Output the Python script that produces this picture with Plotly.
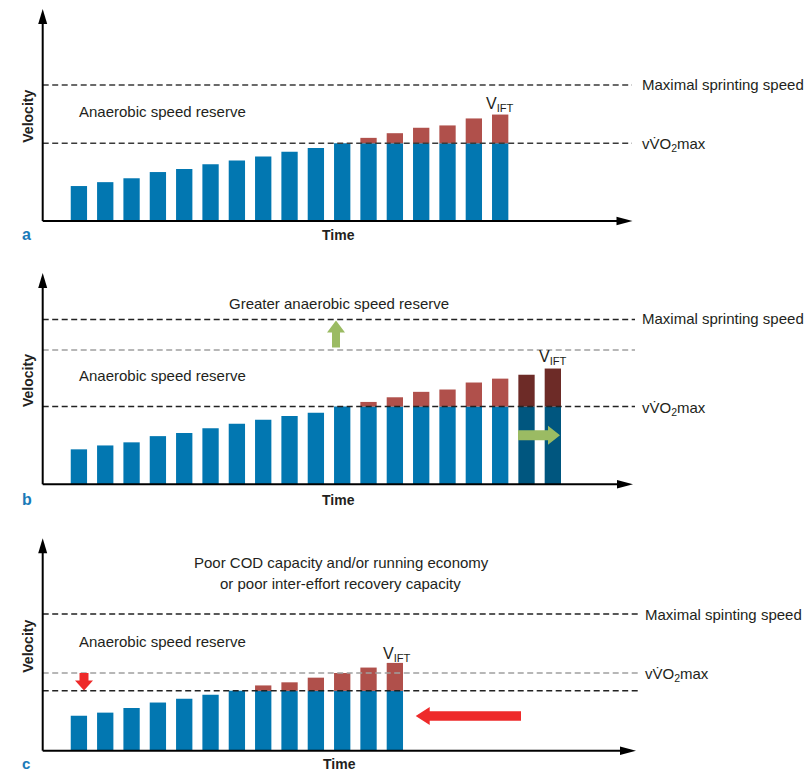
import math
import plotly.graph_objects as go

# ---------------- data (velocity in % of vVO2max) ----------------
panel_a_values = [45, 50, 55, 63, 67, 73, 78, 83, 89, 94, 100, 107, 113, 120, 123, 132, 137]
panel_a_vvo2max = 100
panel_a_mss = 175

panel_b_values = [45, 50, 54, 62, 66, 72, 78, 83, 88, 92, 100, 106, 112, 119, 122, 131, 136, 141, 149]
panel_b_highlight = [17, 18]
panel_b_vvo2max = 100
panel_b_mss_old = 173
panel_b_mss = 212

panel_c_values = [45, 49, 55, 62, 67, 72, 77, 84, 88, 94, 100, 107, 113]
panel_c_vvo2max_old = 100
panel_c_vvo2max = 77
panel_c_mss = 176

BLUE = "#0277b1"
RED = "#b0504b"
DBLUE = "#00567f"
DRED = "#6d2b27"
GREEN = "#9bbb63"
ARROW_RED = "#ee2a2a"
TXT = "#231f20"
FONT = "Liberation Sans, Arial, sans-serif"

W, H = 810, 772
X0, DX = 78.9, 26.33     # pixel of bar 0 centre, pixel per bar step
S = 0.777                # pixel per velocity unit
AXIS_PY = {"a": 221.0, "b": 484.3, "c": 750.7}
TOP_PY = {"a": 9.0, "b": 273.0, "c": 538.3}
YREF = {"a": "y", "b": "y2", "c": "y3"}


def dx(px):
    return (px - X0) / DX


def dy(py, p):
    return (AXIS_PY[p] - py) / S


fig = go.Figure()


def add_bars(values, cap, p, dark_idx=()):
    idx = list(range(len(values)))
    blue = [min(v, cap) for v in values]
    red = [v - cap if v > cap else None for v in values]
    bcol = [DBLUE if i in dark_idx else BLUE for i in idx]
    rcol = [DRED if i in dark_idx else RED for i in idx]
    ya = YREF[p]
    fig.add_trace(go.Bar(x=idx, y=blue, base=0, width=0.62, marker=dict(color=bcol, line=dict(width=0)),
                         yaxis=ya, hoverinfo="skip"))
    fig.add_trace(go.Bar(x=idx, y=red, base=cap, width=0.62, marker=dict(color=rcol, line=dict(width=0)),
                         yaxis=ya, hoverinfo="skip"))


add_bars(panel_a_values, panel_a_vvo2max, "a")
add_bars(panel_b_values, panel_b_vvo2max, "b", panel_b_highlight)
add_bars(panel_c_values, panel_c_vvo2max, "c")

shapes = []
AX_X = 42.7


def dashed(p, val, end_px, color):
    shapes.append(dict(type="line", xref="x", yref=YREF[p], x0=dx(AX_X), x1=dx(end_px), y0=val, y1=val,
                       line=dict(color=color, width=1.5, dash="6px,3.5px")))


def axes(p, tip_x):
    ya = YREF[p]
    top = dy(TOP_PY[p], p)
    shapes.append(dict(type="line", xref="x", yref=ya, x0=dx(AX_X), x1=dx(tip_x - 6), y0=0, y1=0,
                       line=dict(color="black", width=2)))
    shapes.append(dict(type="line", xref="x", yref=ya, x0=dx(AX_X), x1=dx(AX_X), y0=0, y1=top - 8 / S,
                       line=dict(color="black", width=2)))
    path = "M {} {} L {} {} L {} {} Z".format(dx(tip_x), 0, dx(tip_x - 16), 4.3 / S, dx(tip_x - 16), -4.3 / S)
    shapes.append(dict(type="path", xref="x", yref=ya, path=path, fillcolor="black", line=dict(width=0)))
    path = "M {} {} L {} {} L {} {} Z".format(dx(AX_X), top, dx(AX_X - 4.5), top - 15 / S, dx(AX_X + 4.5), top - 15 / S)
    shapes.append(dict(type="path", xref="x", yref=ya, path=path, fillcolor="black", line=dict(width=0)))


def block_arrow(p, tail, tip, shaft, head_w, head_l, color):
    (tx, ty), (hx, hy) = tail, tip
    L = math.hypot(hx - tx, hy - ty)
    ux, uy = (hx - tx) / L, (hy - ty) / L
    nx, ny = -uy, ux
    bx, by = hx - ux * head_l, hy - uy * head_l
    pts = [
        (tx + nx * shaft / 2, ty + ny * shaft / 2),
        (bx + nx * shaft / 2, by + ny * shaft / 2),
        (bx + nx * head_w / 2, by + ny * head_w / 2),
        (hx, hy),
        (bx - nx * head_w / 2, by - ny * head_w / 2),
        (bx - nx * shaft / 2, by - ny * shaft / 2),
        (tx - nx * shaft / 2, ty - ny * shaft / 2),
    ]
    path = "M " + " L ".join("{} {}".format(dx(a), dy(b, p)) for a, b in pts) + " Z"
    shapes.append(dict(type="path", xref="x", yref=YREF[p], path=path, fillcolor=color, line=dict(width=0)))


# panel a
dashed("a", panel_a_mss, 632, "#3a3a3a")
dashed("a", panel_a_vvo2max, 632, "#3a3a3a")
axes("a", 632.5)
# panel b
dashed("b", panel_b_mss, 635, "#222222")
dashed("b", panel_b_mss_old, 635, "#a0a0a0")
dashed("b", panel_b_vvo2max, 635, "#222222")
axes("b", 633)
block_arrow("b", (336, 347.5), (336, 320.5), 8, 18, 12, GREEN)
block_arrow("b", (518, 435.3), (560, 435.3), 10, 19, 12, GREEN)
# panel c
dashed("c", panel_c_mss, 639, "#222222")
dashed("c", panel_c_vvo2max_old, 639, "#a0a0a0")
dashed("c", panel_c_vvo2max, 639, "#222222")
axes("c", 636)
block_arrow("c", (84, 673), (84, 690.5), 9, 18, 10, ARROW_RED)
block_arrow("c", (521, 716), (415.7, 716), 9.5, 18, 14, ARROW_RED)

anns = []


def text(t, px, py, xanchor="left", size=15, color=TXT, angle=0, bold=False):
    anns.append(dict(text=t, x=px / W, y=1 - py / H, xref="paper", yref="paper", xanchor=xanchor,
                     yanchor="middle", showarrow=False, textangle=angle,
                     font=dict(family=FONT, size=size, color=color, weight="bold" if bold else "normal")))


VVO2 = "vV\u0307O<sub>2</sub>max"
VIFT = "V<sub>IFT</sub>"
LBL = "#1a7ab8"

# panel a texts
text("Anaerobic speed reserve", 77.3, 111)
text("Maximal sprinting speed", 640, 84.5)
text(VVO2, 640, 144)
text(VIFT, 500, 104, xanchor="center", size=16)
text("Time", 338, 235.5, xanchor="center", size=14, bold=True)
text("Velocity", 28, 115.7, xanchor="center", size=14, angle=-90, bold=True)
text("a", 26, 235, xanchor="center", size=16, color=LBL, bold=True)

# panel b texts
text("Greater anaerobic speed reserve", 338.7, 303, xanchor="center")
text("Anaerobic speed reserve", 77.3, 375.7)
text("Maximal sprinting speed", 640, 318.5)
text(VVO2, 640, 408)
text(VIFT, 552.7, 357.5, xanchor="center", size=16)
text("Time", 338, 499.5, xanchor="center", size=14, bold=True)
text("Velocity", 28, 380, xanchor="center", size=14, angle=-90, bold=True)
text("b", 26.5, 499, xanchor="center", size=16, color=LBL, bold=True)

# panel c texts
text("Poor COD capacity and/or running economy", 341, 562.3, xanchor="center")
text("or poor inter-effort recovery capacity", 340.5, 583.3, xanchor="center")
text("Anaerobic speed reserve", 77.3, 641)
text("Maximal spinting speed", 643, 614)
text(VVO2, 643, 674)
text(VIFT, 397, 654, xanchor="center", size=16)
text("Time", 339, 763.5, xanchor="center", size=14, bold=True)
text("Velocity", 28, 645.7, xanchor="center", size=14, angle=-90, bold=True)
text("c", 26, 763, xanchor="center", size=15, color=LBL, bold=True)

yaxis_common = dict(visible=False, domain=[0, 1], fixedrange=True)
fig.update_layout(
    width=W, height=H, margin=dict(l=0, r=0, t=0, b=0),
    plot_bgcolor="white", paper_bgcolor="white", showlegend=False, barmode="overlay",
    xaxis=dict(visible=False, range=[dx(0), dx(W)], domain=[0, 1], fixedrange=True),
    yaxis=dict(range=[dy(H, "a"), dy(0, "a")], **yaxis_common),
    yaxis2=dict(range=[dy(H, "b"), dy(0, "b")], overlaying="y", **yaxis_common),
    yaxis3=dict(range=[dy(H, "c"), dy(0, "c")], overlaying="y", **yaxis_common),
    shapes=shapes, annotations=anns,
)

fig.write_html("out.html", config={"displayModeBar": False},
               post_script="document.body.style.margin='0';document.body.style.overflow='hidden';")
